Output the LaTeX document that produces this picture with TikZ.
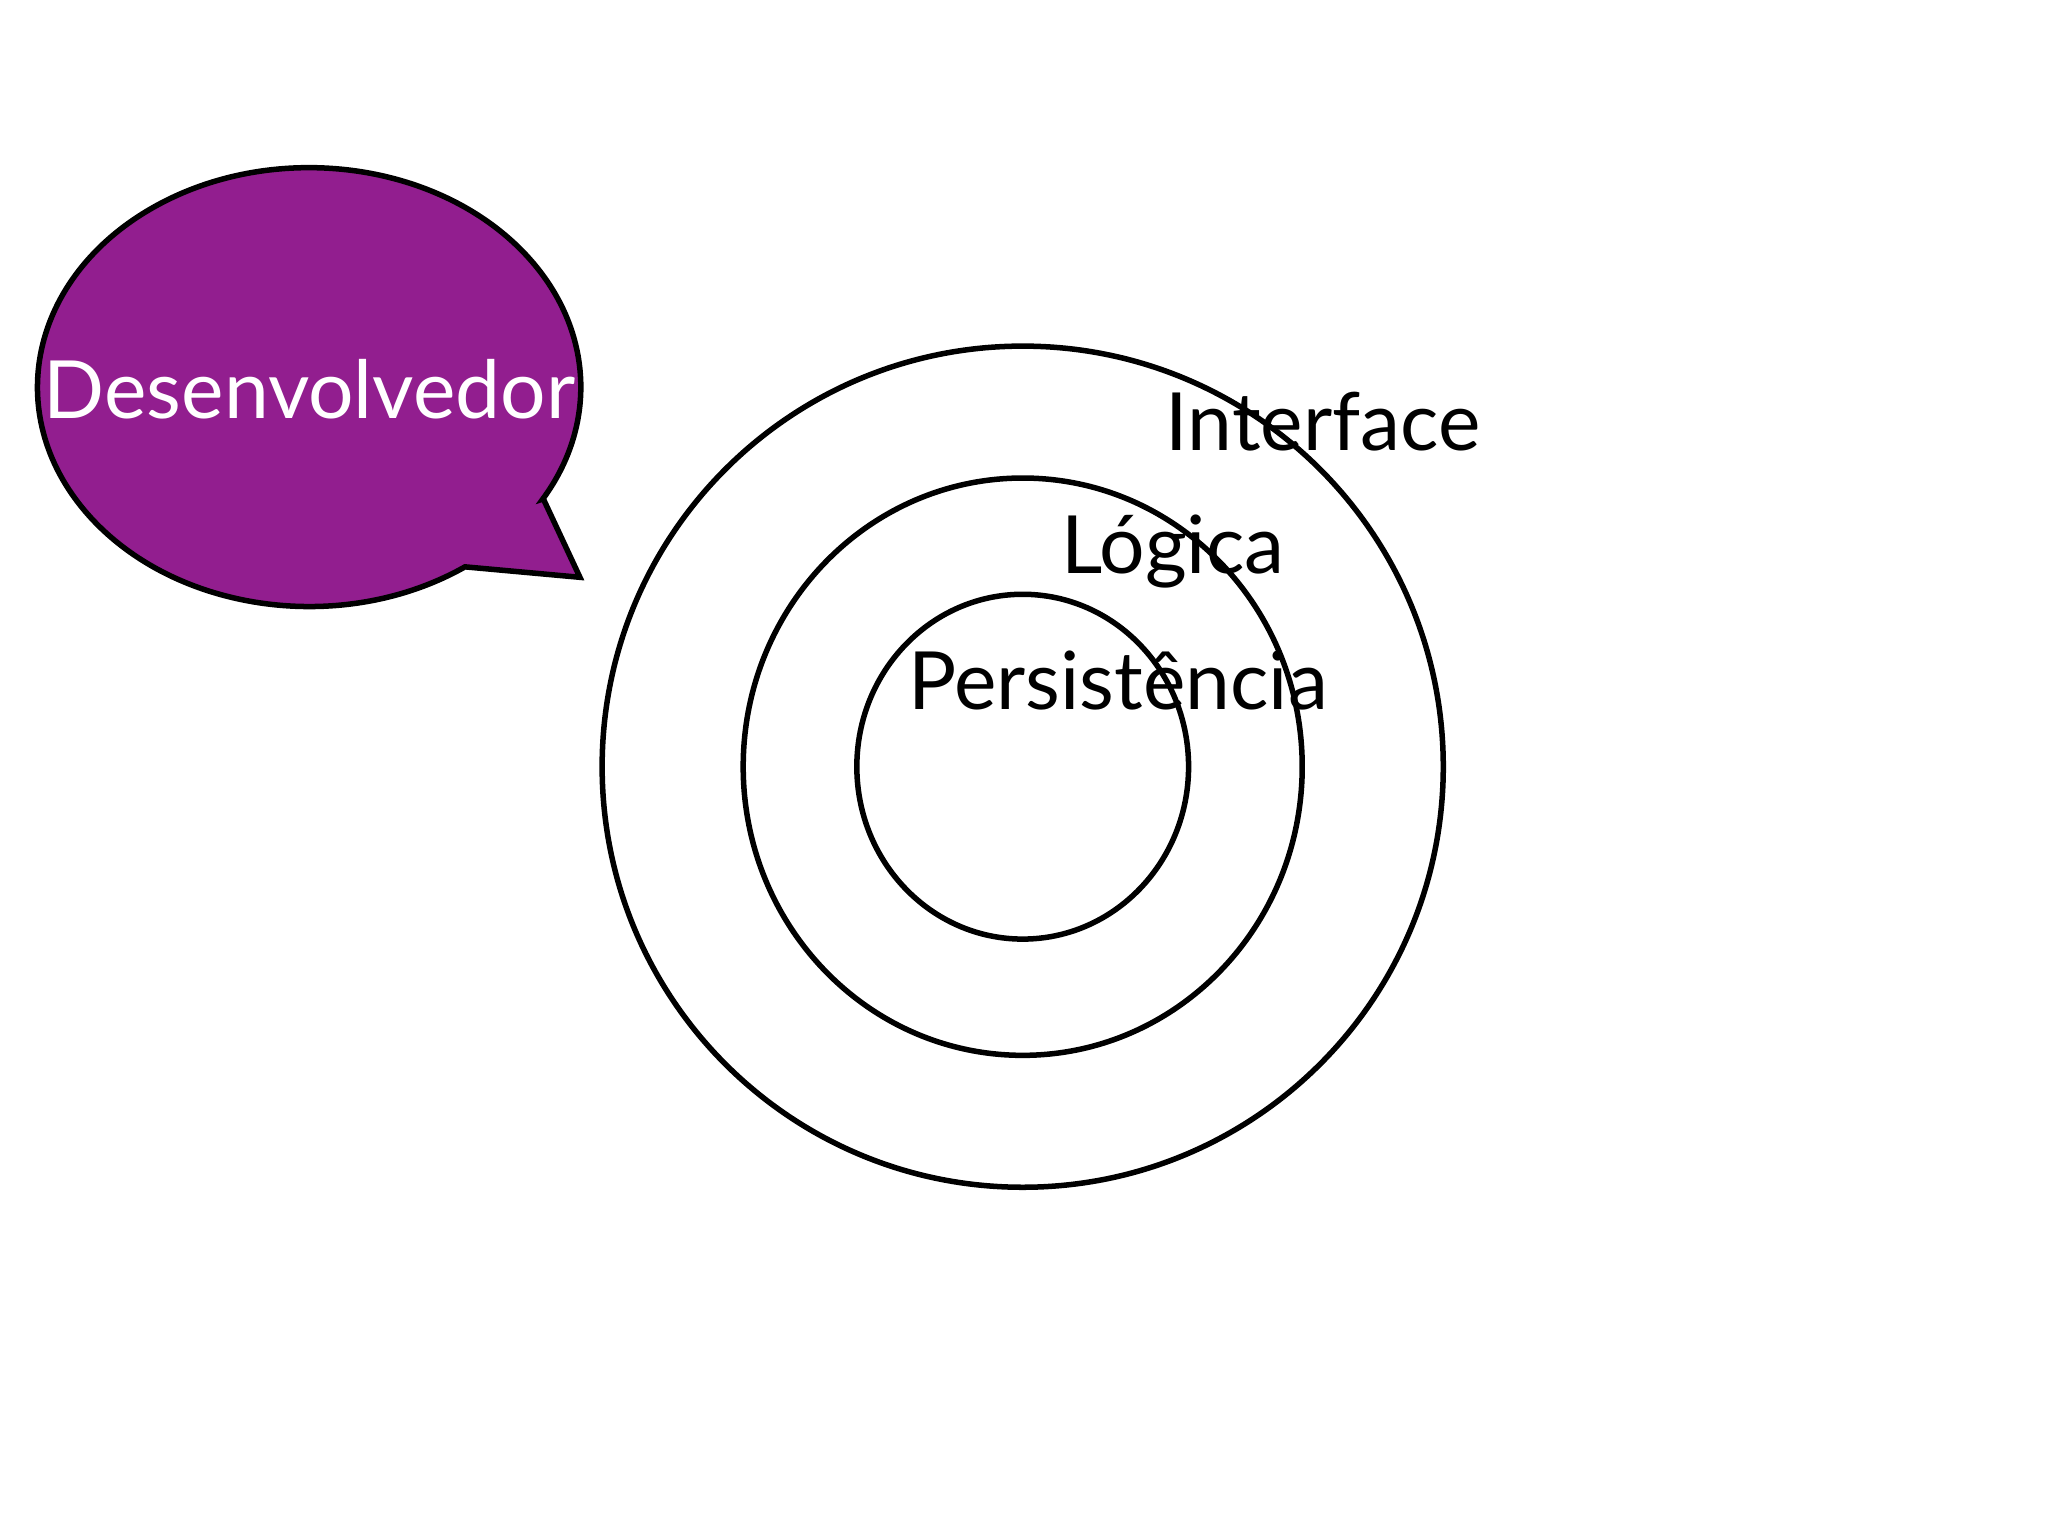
\documentclass[tikz,border=0pt]{standalone}
\usepackage{fontspec}
\setmainfont{Lato}
\definecolor{bub}{HTML}{921E8F}
\begin{document}
\begin{tikzpicture}[ring/.style={draw=black,line width=1.2pt},
 lab/.style={font=\fontsize{17.5}{20}\selectfont,inner sep=0pt}]
\useasboundingbox (0,0) rectangle (15.68,-11.76);
\draw[fill=bub,line width=1.2pt] (4.16,-3.82) -- (4.44,-4.42) -- (3.56,-4.34)
  arc[start angle=-55,end angle=-390.7,x radius=2.08cm,y radius=1.68cm] -- cycle;
\node[lab,text=white] (dev) at (2.37,-2.98) {Desenvolvedor};
\coordinate (c) at (7.83,-5.87);
\draw[ring] (c) ellipse[x radius=3.22cm,y radius=3.22cm];
\draw[ring] (c) ellipse[x radius=2.14cm,y radius=2.21cm];
\draw[ring] (c) ellipse[x radius=1.27cm,y radius=1.32cm];
\node[lab] (int) at (10.13,-3.23) {Interface};
\node[lab] (log) at (8.98,-4.22) {Lógica};
\node[lab] (per) at (8.56,-5.21) {Persistência};
\end{tikzpicture}
\end{document}
